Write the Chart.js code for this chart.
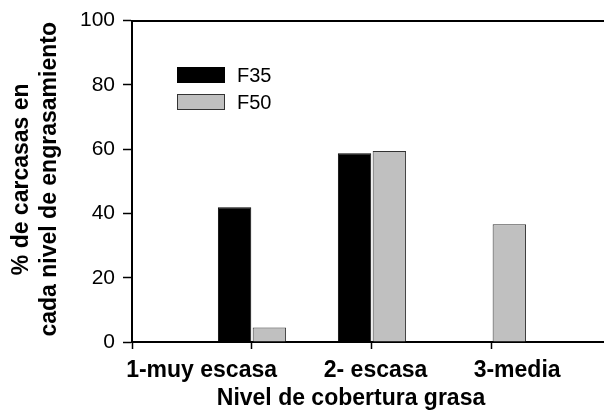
<!DOCTYPE html>
<html>
<head>
<meta charset="utf-8">
<script src="https://cdn.jsdelivr.net/npm/chart.js@4/dist/chart.umd.min.js"></script>
<style>
  html, body { margin: 0; padding: 0; background: #fff; }
  canvas { display: block; }
</style>
</head>
<body>
<canvas id="c" width="604" height="418"></canvas>
<script>
// Fat-cover grading: share of carcasses in each level, per group
const categories = ['1-muy escasa', '2- escasa', '3-media'];
const categoryPositions = [1, 2, 3];
const labelPositions = [0.58, 2.03, 3.21];
const seriesF35 = [41.9, 58.7, 0];
const seriesF50 = [4.5, 59.4, 36.6];
const seriesNames = ['F35', 'F50'];
const yTicks = [0, 20, 40, 60, 80, 100];
const xTickMarks = [0, 1, 2, 3];
const yTitleLines = ['% de carcasas en', 'cada nivel de engrasamiento'];
const xTitle = 'Nivel de cobertura grasa';

const FONT = "'Liberation Sans', Arial, Helvetica, sans-serif";
Chart.defaults.color = '#000';
Chart.defaults.font.family = FONT;

const toPoints = vals => vals.map((v, i) => ({ x: categoryPositions[i], y: v }));

// Custom text: category labels, axis titles and the inset legend
const annotations = {
  id: 'annotations',
  afterDraw(chart) {
    const { ctx, chartArea } = chart;
    const xs = chart.scales.x;
    ctx.save();
    ctx.fillStyle = '#000';

    // category labels
    ctx.font = 'bold 23px ' + FONT;
    ctx.textAlign = 'center';
    ctx.textBaseline = 'middle';
    categories.forEach((c, i) => {
      ctx.fillText(c, xs.getPixelForValue(labelPositions[i]), chartArea.bottom + 29);
    });

    // x title
    ctx.fillText(xTitle, chartArea.left + 219, chartArea.bottom + 57);

    // y title (two rotated lines)
    ctx.font = 'bold 23px ' + FONT;
    const yMid = (chartArea.top + chartArea.bottom) / 2;
    [22, 50].forEach((x, i) => {
      ctx.save();
      ctx.translate(x, yMid - 2);
      ctx.rotate(-Math.PI / 2);
      ctx.fillText(yTitleLines[i], 0, 0);
      ctx.restore();
    });

    // legend
    ctx.font = '20px ' + FONT;
    ctx.textAlign = 'left';
    chart.data.datasets.forEach((ds, i) => {
      const bx = chartArea.left + 45.5, by = 67.5 + i * 27, bw = 47, bh = 15;
      ctx.fillStyle = ds.backgroundColor;
      ctx.fillRect(bx, by, bw, bh);
      ctx.strokeStyle = ds.borderColor;
      ctx.lineWidth = 1;
      ctx.strokeRect(bx, by, bw, bh);
      ctx.fillStyle = '#000';
      ctx.fillText(ds.label, chartArea.left + 105, by + bh / 2 + 1);
    });
    ctx.restore();
  }
};

new Chart(document.getElementById('c'), {
  type: 'bar',
  data: {
    datasets: [
      {
        label: seriesNames[0],
        data: toPoints(seriesF35),
        backgroundColor: '#000000',
        borderColor: '#000000',
        borderWidth: 1
      },
      {
        label: seriesNames[1],
        data: toPoints(seriesF50),
        backgroundColor: '#c0c0c0',
        borderColor: '#333333',
        borderWidth: 1
      }
    ]
  },
  options: {
    responsive: false,
    animation: false,
    devicePixelRatio: 1,
    categoryPercentage: 0.58,
    barPercentage: 0.96,
    layout: { padding: { top: 20, left: 0, right: -4, bottom: 0 } },
    plugins: {
      legend: { display: false },
      tooltip: { enabled: false }
    },
    scales: {
      x: {
        type: 'linear',
        offset: false,
        min: 0,
        max: 3.934,
        afterBuildTicks: s => { s.ticks = xTickMarks.map(v => ({ value: v })); },
        afterFit: s => { s.height = 76; },
        ticks: { display: false },
        grid: {
          offset: false,
          drawOnChartArea: false,
          drawTicks: true,
          tickLength: 7,
          tickColor: '#000',
          tickWidth: 1.5
        },
        border: { display: true, color: '#000', width: 2 }
      },
      xTop: {
        type: 'linear',
        position: 'top',
        offset: false,
        min: 0,
        max: 1,
        afterFit: s => { s.height = 0; },
        ticks: { display: false },
        grid: { display: false, drawTicks: false },
        border: { display: true, color: '#000', width: 2 }
      },
      y: {
        min: 0,
        max: 100,
        afterBuildTicks: s => { s.ticks = yTicks.map(v => ({ value: v })); },
        afterFit: s => { s.width = 132; },
        ticks: {
          padding: 8,
          font: { size: 21, family: FONT },
          color: '#000'
        },
        grid: {
          drawOnChartArea: false,
          drawTicks: true,
          tickLength: 9,
          tickColor: '#000',
          tickWidth: 1.5
        },
        border: { display: true, color: '#000', width: 2 }
      }
    }
  },
  plugins: [annotations]
});
</script>
</body>
</html>
